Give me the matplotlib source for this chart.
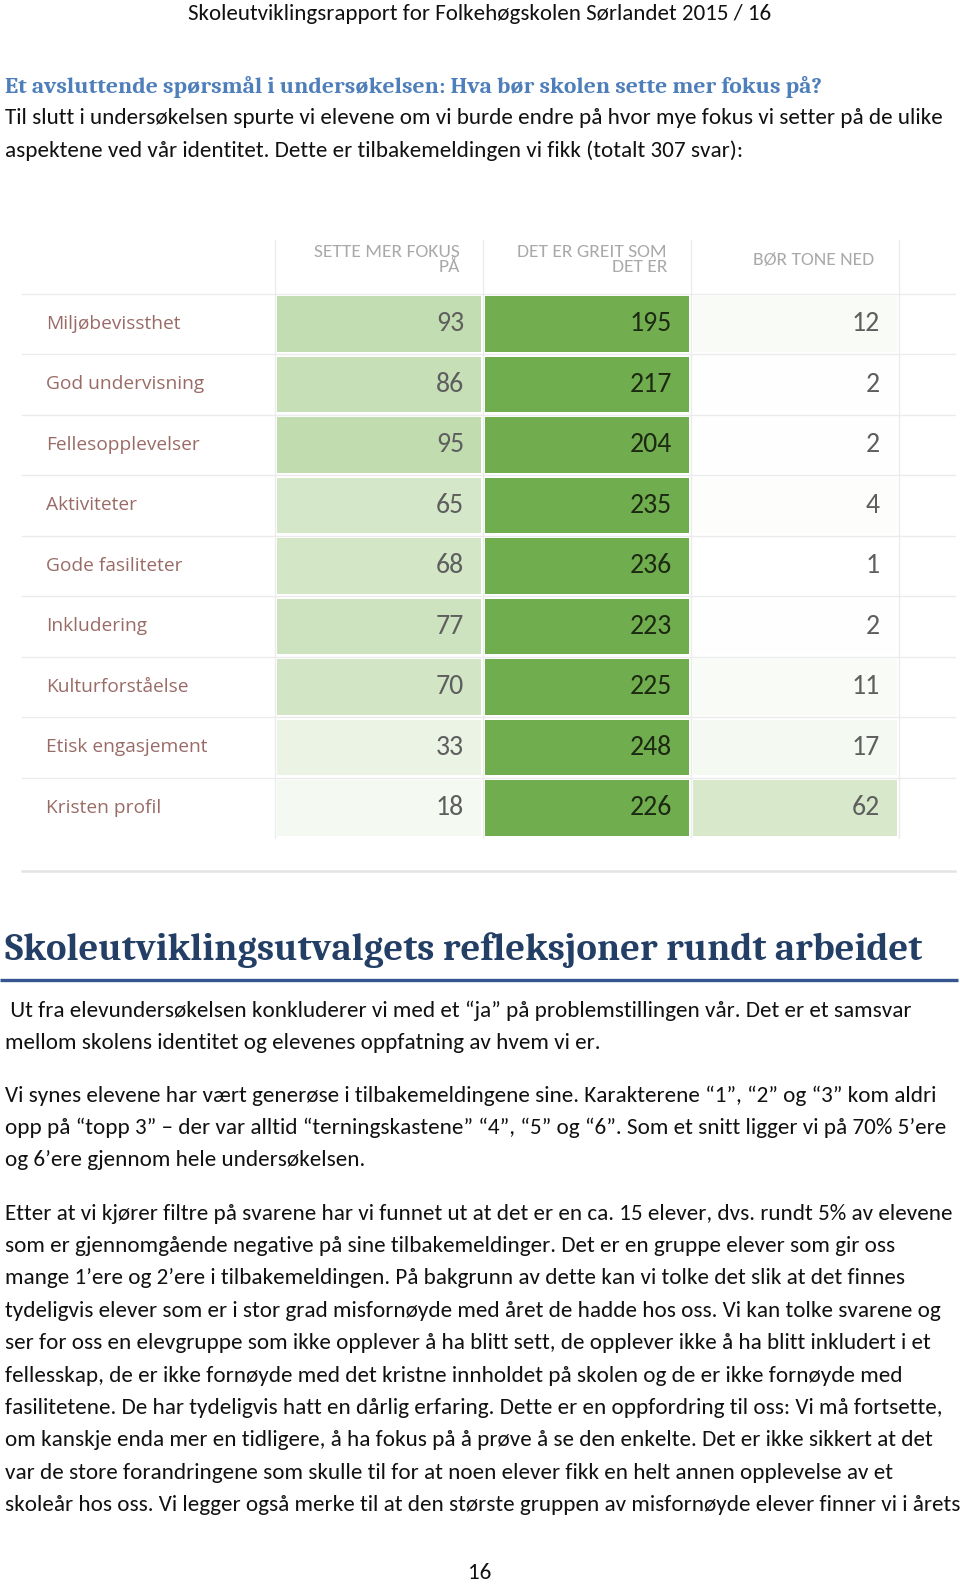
import matplotlib
matplotlib.use("Agg")
import matplotlib.pyplot as plt
from matplotlib import font_manager as fm
from matplotlib.colors import LinearSegmentedColormap, Normalize

# ---------------- data ----------------
categories = ["Miljøbevissthet", "God undervisning", "Fellesopplevelser", "Aktiviteter",
              "Gode fasiliteter", "Inkludering", "Kulturforståelse", "Etisk engasjement",
              "Kristen profil"]
col_headers = ["SETTE MER FOKUS\nPÅ", "DET ER GREIT SOM\nDET ER", "BØR TONE NED"]
more_focus = [93, 86, 95, 65, 68, 77, 70, 33, 18]
fine_as_is = [195, 217, 204, 235, 236, 223, 225, 248, 226]
tone_down = [12, 2, 2, 4, 1, 2, 11, 17, 62]

page_header = "Skoleutviklingsrapport for Folkehøgskolen Sørlandet 2015 / 16"
heading1 = "Et avsluttende spørsmål i undersøkelsen: Hva bør skolen sette mer fokus på?"
intro_lines = [
    "Til slutt i undersøkelsen spurte vi elevene om vi burde endre på hvor mye fokus vi setter på de ulike",
    "aspektene ved vår identitet. Dette er tilbakemeldingen vi fikk (totalt 307 svar):",
]
heading2 = "Skoleutviklingsutvalgets refleksjoner rundt arbeidet"
para1 = [
    " Ut fra elevundersøkelsen konkluderer vi med et “ja” på problemstillingen vår. Det er et samsvar",
    "mellom skolens identitet og elevenes oppfatning av hvem vi er.",
]
para2 = [
    "Vi synes elevene har vært generøse i tilbakemeldingene sine. Karakterene “1”, “2” og “3” kom aldri",
    "opp på “topp 3” – der var alltid “terningskastene” “4”, “5” og “6”. Som et snitt ligger vi på 70% 5’ere",
    "og 6’ere gjennom hele undersøkelsen.",
]
para3 = [
    "Etter at vi kjører filtre på svarene har vi funnet ut at det er en ca. 15 elever, dvs. rundt 5% av elevene",
    "som er gjennomgående negative på sine tilbakemeldinger. Det er en gruppe elever som gir oss",
    "mange 1’ere og 2’ere i tilbakemeldingen. På bakgrunn av dette kan vi tolke det slik at det finnes",
    "tydeligvis elever som er i stor grad misfornøyde med året de hadde hos oss. Vi kan tolke svarene og",
    "ser for oss en elevgruppe som ikke opplever å ha blitt sett, de opplever ikke å ha blitt inkludert i et",
    "fellesskap, de er ikke fornøyde med det kristne innholdet på skolen og de er ikke fornøyde med",
    "fasilitetene. De har tydeligvis hatt en dårlig erfaring. Dette er en oppfordring til oss: Vi må fortsette,",
    "om kanskje enda mer en tidligere, å ha fokus på å prøve å se den enkelte. Det er ikke sikkert at det",
    "var de store forandringene som skulle til for at noen elever fikk en helt annen opplevelse av et",
    "skoleår hos oss. Vi legger også merke til at den største gruppen av misfornøyde elever finner vi i årets",
]
page_number = "16"

# ---------------- fonts ----------------
avail = {f.name for f in fm.fontManager.ttflist}
def pick(cands, default="DejaVu Sans"):
    for c in cands:
        if c in avail:
            return c
    return default

body_font = pick(["Carlito", "Liberation Sans Narrow", "Roboto", "Open Sans"])
serif_font = pick(["Caladea", "Liberation Serif", "DejaVu Serif"], "DejaVu Serif")
table_font = pick(["Open Sans", "Noto Sans", "DejaVu Sans"])
head_font = pick(["Carlito", "Liberation Sans Narrow", "Roboto", "Open Sans"])

W, H = 960, 1584
fig = plt.figure(figsize=(W / 100, H / 100), dpi=100)
fig.patch.set_facecolor("white")
page = fig.add_axes([0, 0, 1, 1])
page.set_xlim(0, W)
page.set_ylim(H, 0)
page.axis("off")
renderer = fig.canvas.get_renderer()


def fitted_size(s, width, family, weight="normal", size0=20):
    t = page.text(0, 0, s, fontsize=size0, family=family, weight=weight)
    bb = t.get_window_extent(renderer)
    t.remove()
    return size0 * width / bb.width


# ---------------- page texts ----------------
hs = fitted_size(page_header, 582, body_font)
page.text(480, 14, page_header, fontsize=hs, family=body_font, ha="center", va="center", color="#111111")

h1s = fitted_size(heading1, 813, serif_font, "bold")
page.text(5, 87, heading1, fontsize=h1s, family=serif_font, weight="bold", color="#4f7fba",
          ha="left", va="center")

bs = fitted_size(para3[0], 942, body_font)
for i, line in enumerate(intro_lines):
    page.text(5, 118 + i * 32.4, line, fontsize=bs, family=body_font, color="#111111",
              ha="left", va="center")

h2s = fitted_size(heading2, 915, serif_font, "bold")
page.text(5, 950, heading2, fontsize=h2s, family=serif_font, weight="bold", color="#243f66",
          ha="left", va="center")
page.plot([0, 958], [980, 980], color="#34558f", lw=2.4, solid_capstyle="butt")

for start, lines in [(1010.5, para1), (1095.5, para2), (1213.6, para3)]:
    for i, line in enumerate(lines):
        page.text(5, start + i * 32.4, line, fontsize=bs, family=body_font, color="#111111",
                  ha="left", va="center")

page.text(480, 1573, page_number, fontsize=bs, family=body_font, ha="center", va="center",
          color="#111111")

# ---------------- table ----------------
t_left, t_right = 275.0, 899.0
t_top, t_bot = 293.5, 838.0
n_rows = len(categories)
row_h = (t_bot - t_top) / n_rows
col_w = (t_right - t_left) / 3

# grid lines (page coords)
for k in range(n_rows):
    y = t_top + k * row_h
    page.plot([22, 955], [y, y], color="#ebebeb", lw=1.0, zorder=0)
page.plot([22, 955], [871, 871], color="#e4e4e4", lw=1.8, zorder=0)
for k in range(4):
    x = t_left + k * col_w
    page.plot([x, x], [240, t_bot], color="#ececec", lw=1.0, zorder=0)

tab = fig.add_axes([t_left / W, 1 - t_bot / H, (t_right - t_left) / W, (t_bot - t_top) / H])
tab.set_xlim(0, 3)
tab.set_ylim(n_rows, 0)
tab.axis("off")
tab.patch.set_alpha(0)

cmap = LinearSegmentedColormap.from_list(
    "g", [(0.0, "#ffffff"), (0.42, "#c3ddb2"), (0.85, "#72ae50"), (1.0, "#70ad4e")])
norm = Normalize(0, 220, clip=True)

gx = 1.8 / col_w
gy = 2.5 / row_h
series = [more_focus, fine_as_is, tone_down]
num_font = body_font
num_size = 20
for j, vals in enumerate(series):
    tab.bar([j + 0.5] * n_rows, [1 - 2 * gy] * n_rows, bottom=[i + gy for i in range(n_rows)],
            width=1 - 2 * gx, color=[cmap(norm(v)) for v in vals], align="center", linewidth=0)
    for i, v in enumerate(vals):
        dark = v > 150
        tab.text(j + 1 - 19 / col_w, i + 0.5, str(v), ha="right", va="center",
                 fontsize=num_size, family=num_font,
                 color="#1c2a12" if dark else "#5e5e5e")

# headers
hdr_right = [460, 667, 874]
for x, s in zip(hdr_right, col_headers):
    page.text(x, 259.5, s, ha="right", va="center", fontsize=14, family=head_font,
              color="#a9a9a9", linespacing=0.9)

ls = fitted_size(categories[0], 134, table_font)
for i, c in enumerate(categories):
    page.text(46, t_top + (i + 0.5) * row_h, c, ha="left", va="center", fontsize=ls,
              family=table_font, color="#9a6b66")

fig.savefig("out.png", dpi=100, facecolor="white")
